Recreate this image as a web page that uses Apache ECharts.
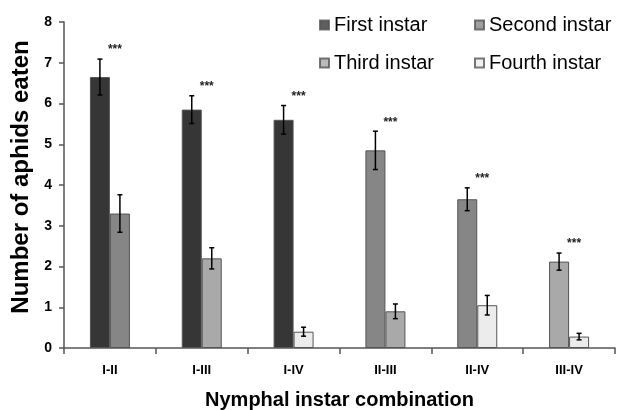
<!DOCTYPE html>
<html>
<head>
<meta charset="utf-8">
<script src="https://cdn.jsdelivr.net/npm/echarts@6/dist/echarts.min.js"></script>
<style>html,body{margin:0;padding:0;background:#fff}#c{width:617px;height:410px}</style>
</head>
<body>
<div id="c"></div>
<script>
var categories = ['I-II', 'I-III', 'I-IV', 'II-III', 'II-IV', 'III-IV'];
var instarNames = ['First instar', 'Second instar', 'Third instar', 'Fourth instar'];
var leftInstar = [0, 0, 0, 1, 1, 2];
var rightInstar = [1, 2, 3, 2, 3, 3];
var leftMean = [6.65, 5.85, 5.6, 4.85, 3.65, 2.12];
var leftSE = [0.44, 0.34, 0.35, 0.47, 0.28, 0.21];
var rightMean = [3.3, 2.2, 0.4, 0.9, 1.05, 0.28];
var rightSE = [0.46, 0.26, 0.11, 0.18, 0.24, 0.08];
var sig = ['***', '***', '***', '***', '***', '***'];

var colors = ['#363636', '#868686', '#a9a9a9', '#ececec'];
var FONT = 'Liberation Sans, Arial, sans-serif';
var BW = 20;

var chart = echarts.init(document.getElementById('c'));

function barData(means, inst) {
  return means.map(function (v, i) {
    return { value: v, itemStyle: { color: colors[inst[i]] } };
  });
}
var errData = [];
categories.forEach(function (c, i) {
  errData.push([i, leftMean[i], leftSE[i], -1]);
  errData.push([i, rightMean[i], rightSE[i], 1]);
});
var sigData = categories.map(function (c, i) { return [i, leftMean[i] + leftSE[i], sig[i]]; });

var legendSeries = instarNames.map(function (n, k) {
  return { name: n, type: 'scatter', data: [], itemStyle: { color: colors[k], borderColor: '#555', borderWidth: 1 } };
});

chart.setOption({
  animation: false,
  backgroundColor: '#fff',
  grid: { left: 64, right: 2, top: 22, bottom: 62, containLabel: false, outerBoundsMode: 'none' },
  legend: [
    { left: 314, top: 10, orient: 'vertical', itemGap: 18, itemWidth: 9, itemHeight: 9, icon: 'rect',
      data: ['First instar', 'Third instar'], textStyle: { fontFamily: FONT, fontSize: 20, color: '#000' } },
    { left: 469, top: 10, orient: 'vertical', itemGap: 18, itemWidth: 9, itemHeight: 9, icon: 'rect',
      data: ['Second instar', 'Fourth instar'], textStyle: { fontFamily: FONT, fontSize: 20, color: '#000' } }
  ],
  xAxis: {
    type: 'category', data: categories,
    axisLine: { lineStyle: { color: '#555', width: 1.5 } },
    axisTick: { show: true, length: 6, lineStyle: { color: '#555', width: 1.5 } },
    axisLabel: { fontFamily: FONT, fontSize: 13, fontWeight: 'bold', color: '#000', margin: 16 },
    name: 'Nymphal instar combination', nameLocation: 'middle', nameGap: 42,
    nameTextStyle: { fontFamily: FONT, fontSize: 20, fontWeight: 'bold', color: '#000' }
  },
  yAxis: {
    type: 'value', min: 0, max: 8, interval: 1,
    splitLine: { show: false },
    axisLine: { show: true, lineStyle: { color: '#555', width: 1.5 } },
    axisTick: { show: true, length: 5, lineStyle: { color: '#555', width: 1.5 } },
    axisLabel: { fontFamily: FONT, fontSize: 14, fontWeight: 'bold', color: '#000', margin: 12 },
    name: 'Number of aphids eaten', nameLocation: 'middle', nameGap: 30,
    nameTextStyle: { fontFamily: FONT, fontSize: 24, fontWeight: 'bold', color: '#000', padding: [0, 0, 0, 16] }
  },
  series: [
    { type: 'bar', barWidth: BW, barGap: '0%', data: barData(leftMean, leftInstar),
      itemStyle: { borderColor: '#555', borderWidth: 1 } },
    { type: 'bar', barWidth: BW, barGap: '0%', data: barData(rightMean, rightInstar),
      itemStyle: { borderColor: '#555', borderWidth: 1 } },
    { type: 'custom', data: errData, z: 10,
      renderItem: function (params, api) {
        var i = api.value(0), m = api.value(1), e = api.value(2), s = api.value(3);
        var x = api.coord([i, m])[0] + s * BW / 2;
        var yt = api.coord([i, m + e])[1];
        var yb = api.coord([i, m - e])[1];
        var st = { stroke: '#000', lineWidth: 1.5 };
        return { type: 'group', children: [
          { type: 'line', shape: { x1: x, y1: yt, x2: x, y2: yb }, style: st },
          { type: 'line', shape: { x1: x - 2.5, y1: yt, x2: x + 2.5, y2: yt }, style: st },
          { type: 'line', shape: { x1: x - 2.5, y1: yb, x2: x + 2.5, y2: yb }, style: st }
        ] };
      } },
    { type: 'custom', data: sigData, z: 10,
      renderItem: function (params, api) {
        var i = api.value(0), t = api.value(1);
        var p = api.coord([i, t]);
        return { type: 'text', x: p[0] - BW / 2 + 15, y: p[1] - 9,
          style: { text: sigData[params.dataIndex][2], fontFamily: FONT, fontSize: 12, fontWeight: 'bold', fill: '#222', align: 'center', verticalAlign: 'middle' } };
      } }
  ].concat(legendSeries)
});
</script>
</body>
</html>
